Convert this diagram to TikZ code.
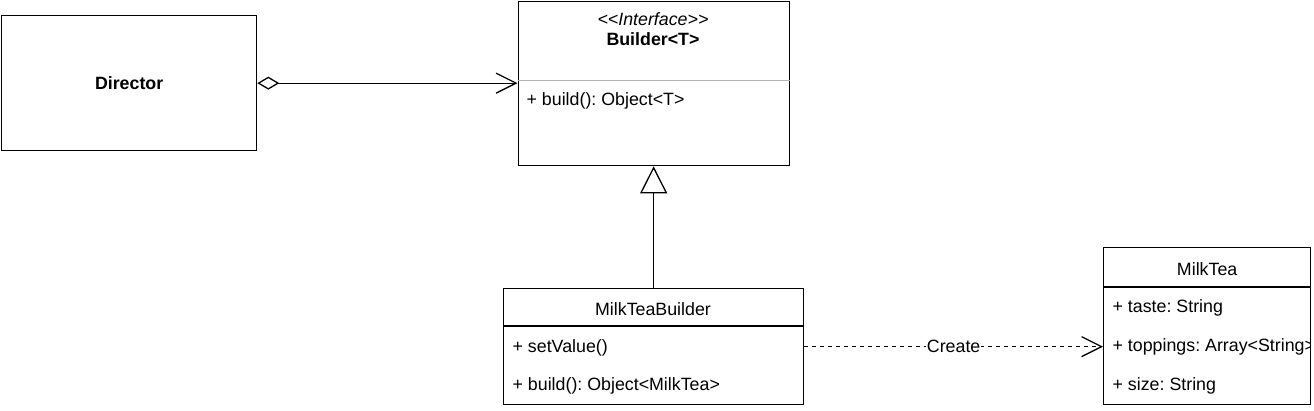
\documentclass[tikz,border=0pt]{standalone}
\usepackage{fontspec}
\setmainfont{Liberation Sans}
\usetikzlibrary{arrows.meta}

\tikzset{
  classbox/.style={draw, anchor=north west, inner sep=0pt},
  member/.style={anchor=west, inner sep=0pt},
  title/.style={inner sep=0pt},
  openhead/.style={-{Straight Barb[length=20pt,width=20pt]}},
}

\begin{document}
\frenchspacing
\begin{tikzpicture}[x=1pt,y=-1pt,line width=1.3pt,font=\fontsize{17.8}{21}\selectfont]
  \useasboundingbox (0,0) rectangle (1314,410);

  % class boxes
  \node[classbox, minimum width=255pt, minimum height=135pt] (director) at (1,15) {\bfseries Director};
  \node[classbox, minimum width=271pt, minimum height=164pt] (builder) at (517.5,1) {};
  \node[classbox, minimum width=300pt, minimum height=116pt] (milkteabuilder) at (503,288) {};
  \node[classbox, minimum width=207pt, minimum height=157pt] (milktea) at (1103,247) {};

  % Builder<T>
  \node[title] (builderstereo) at (653,19) {\itshape <{}<Interface>{}>};
  \node[title] (buildername) at (653,39) {\bfseries Builder<T>};
  \draw[gray!60, line width=1pt] (builder.west |- 0,80) -- (builder.east |- 0,80);
  \node[member] (builderbuild) at (526,101) {+ build(): Object<T>};

  % MilkTeaBuilder
  \node[title] (mtbname) at (653,309) {MilkTeaBuilder};
  \draw (milkteabuilder.west |- 0,326) -- (milkteabuilder.east |- 0,326);
  \node[member] (mtbset) at (512,348) {+ setValue()};
  \node[member] (mtbbuild) at (512,386) {+ build(): Object<MilkTea>};

  % MilkTea (fields cut off at the right border)
  \node[title] (mtname) at (milktea.center |- 0,269) {MilkTea};
  \draw (milktea.west |- 0,287) -- (milktea.east |- 0,287);
  \begin{scope}
    \clip (milktea.north west) rectangle ([xshift=-2pt]milktea.south east);
    \foreach \y/\txt [count=\i] in {308/{+ taste: String},347/{+ toppings: Array<String>},386/{+ size: String}}
      \node[member] (mtfield\i) at (1112,\y) {\txt};
  \end{scope}

  % relations
  \draw[{Diamond[open,length=22pt,width=13pt]}-{Straight Barb[length=20pt,width=20pt]}]
    (director.east) -- (builder.west |- director.east);
  \draw[-{Triangle[open,length=27pt,width=27pt]}] (milkteabuilder.north) -- (builder.south);
  \draw[openhead, dash pattern=on 4pt off 4pt] (milkteabuilder.east) -- (milktea.west |- milkteabuilder.east)
    node[midway, fill=white, inner sep=1pt] (createlabel) {Create};
\end{tikzpicture}
\end{document}
